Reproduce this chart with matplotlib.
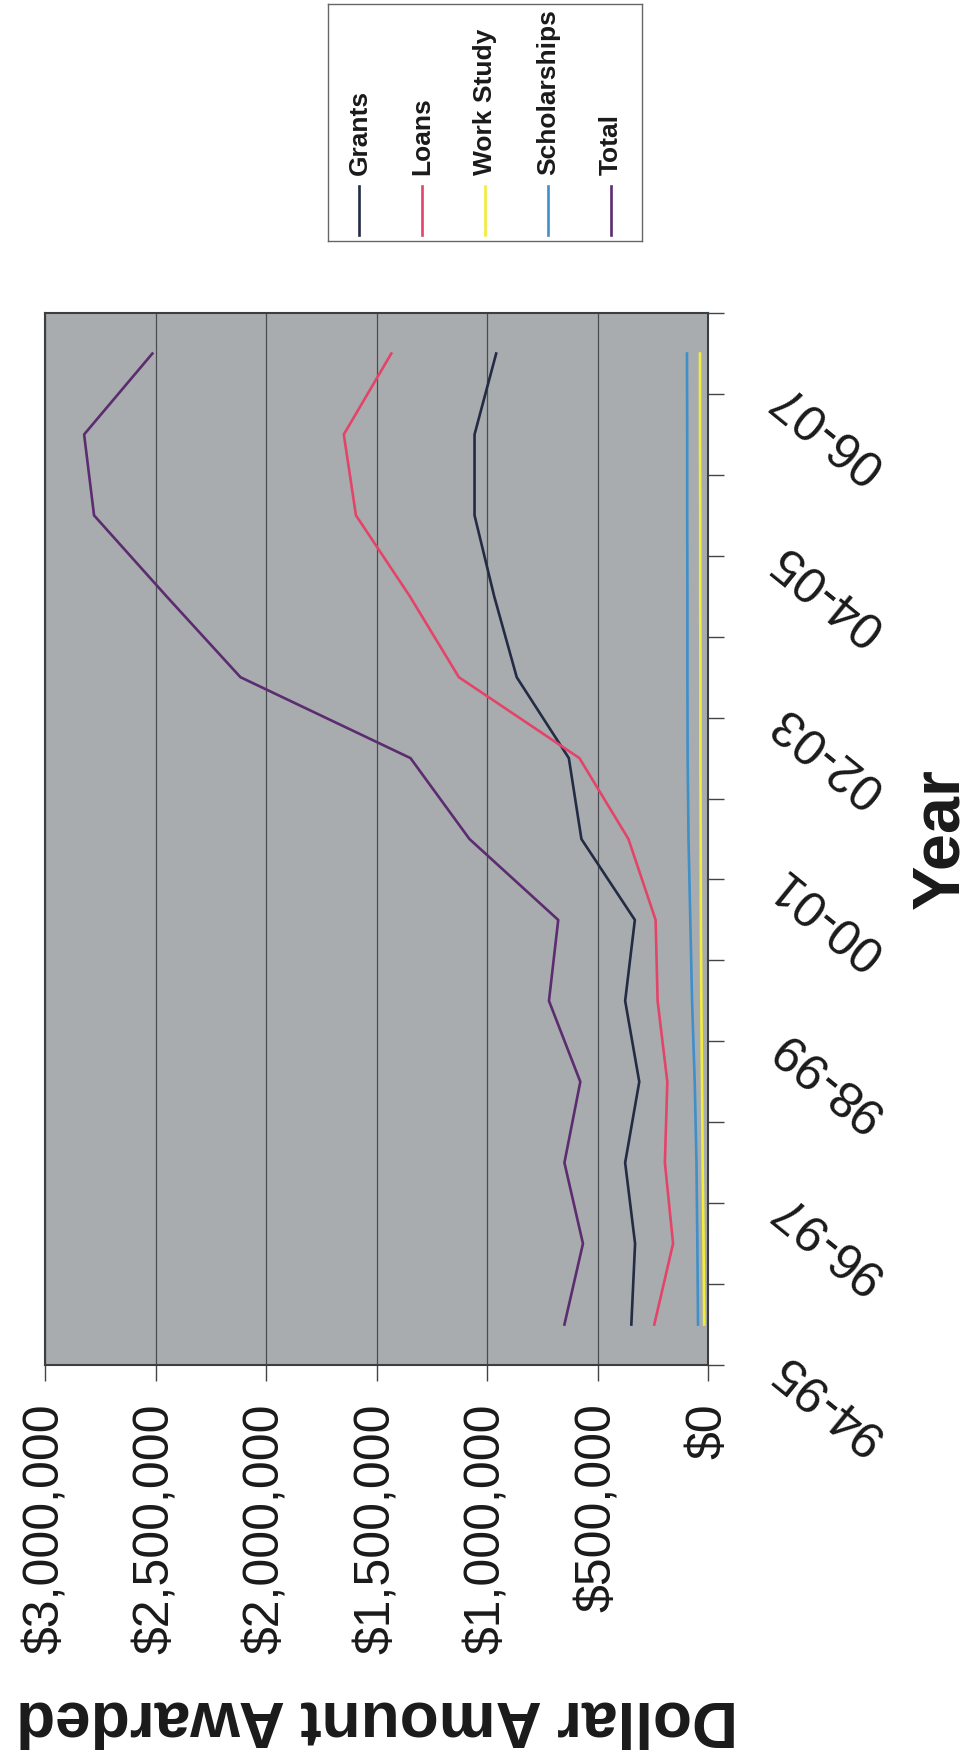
import numpy as np
import matplotlib
matplotlib.use('Agg')
import matplotlib.pyplot as plt
from matplotlib.ticker import FuncFormatter

plt.rcParams['font.family'] = ['Liberation Sans', 'DejaVu Sans']

# school years (categories) and awards in thousands of dollars
years = ['94-95', '95-96', '96-97', '97-98', '98-99', '99-00', '00-01',
         '01-02', '02-03', '03-04', '04-05', '05-06', '06-07']
grants = [347, 330, 375, 311, 375, 331, 573, 630, 866, 968, 1057, 1057, 959]
loans = [243, 158, 195, 184, 228, 237, 360, 582, 1128, 1350, 1594, 1649, 1434]
work_study = [17, 20, 24, 27, 30, 32, 33, 34, 34, 35, 35, 36, 36]
scholarships = [45, 48, 52, 60, 72, 80, 88, 92, 93, 93, 94, 94, 95]
total = [650, 566, 650, 578, 720, 678, 1080, 1347, 2117, 2452, 2780, 2825, 2516]

series = [('Grants', grants, '#232B45'),
          ('Loans', loans, '#E2446A'),
          ('Work Study', work_study, '#F2EC3A'),
          ('Scholarships', scholarships, '#3F8FC9'),
          ('Total', total, '#5B2C6F')]

text_col = '#1a1a1a'
fig = plt.figure(figsize=(9.8, 17.52), dpi=100)

# the page is scanned sideways: values run right-to-left, years bottom-to-top
ax = fig.add_axes([0.0464, 0.2209, 0.6760, 0.6004])
ax.set_facecolor('#A9ACAE')
pos = np.arange(len(years))
for name, vals, col in series:
    ax.plot(np.array(vals) * 1000, pos, color=col, lw=1.9, label=name)

ax.set_xlim(3e6, 0)
ax.set_ylim(-0.5, len(years) - 0.5)
ax.set_xticks(np.arange(0, 3e6 + 1, 5e5))
ax.xaxis.set_major_formatter(FuncFormatter(lambda v, p: f'${v:,.0f}'))
ax.grid(axis='x', color='#4a4d50', lw=0.9)
ax.set_axisbelow(True)
ax.tick_params(axis='x', direction='out', length=11.5, width=1, color='#444444',
               labelsize=36, labelrotation=90, pad=16, labelcolor=text_col)

ax.yaxis.tick_right()
ax.set_yticks(np.arange(-0.5, len(years)))
ax.set_yticklabels([])
ax.set_yticks(pos[::2] - 0.46, minor=True)
ax.set_yticklabels(years[::2], minor=True, rotation=141, rotation_mode='anchor',
                   ha='right', va='center')
ax.tick_params(axis='y', which='major', direction='out', length=11.5, width=1,
               color='#444444', left=False, right=True)
ax.tick_params(axis='y', which='minor', length=0, pad=50, labelsize=36,
               labelcolor=text_col, left=False, right=True,
               labelleft=False, labelright=True)

for s in ax.spines.values():
    s.set_color('#3c3f42')
    s.set_linewidth(1.5)

ax.set_xlabel('Dollar Amount Awarded', fontsize=46, fontweight='bold',
              rotation=180, color=text_col)
ax.xaxis.set_label_coords(0.5, -0.3356)
ax.xaxis.label.set_va('center')

ax.set_ylabel('Year', fontsize=48, fontweight='bold', rotation=90, color=text_col)
ax.yaxis.set_label_coords(1.352, 0.5)
ax.yaxis.label.set_va('center')
ax.yaxis.label.set_ha('center')

# legend, drawn by hand because its text is turned on its side
lax = fig.add_axes([0.3347, 0.8624, 0.3204, 0.1353])
lax.set_xlim(0, 1)
lax.set_ylim(0, 1)
lax.set_xticks([])
lax.set_yticks([])
for s in lax.spines.values():
    s.set_color('#666666')
    s.set_linewidth(1)
for i, (name, vals, col) in enumerate(series):
    xi = 0.1 + 0.2 * i
    lax.plot([xi, xi], [0.025, 0.232], color=col, lw=1.9)
    lax.text(xi, 0.278, name, rotation=90, ha='center', va='bottom',
             fontsize=19, fontweight='bold', color=text_col)

fig.savefig('out.png', dpi=100)
